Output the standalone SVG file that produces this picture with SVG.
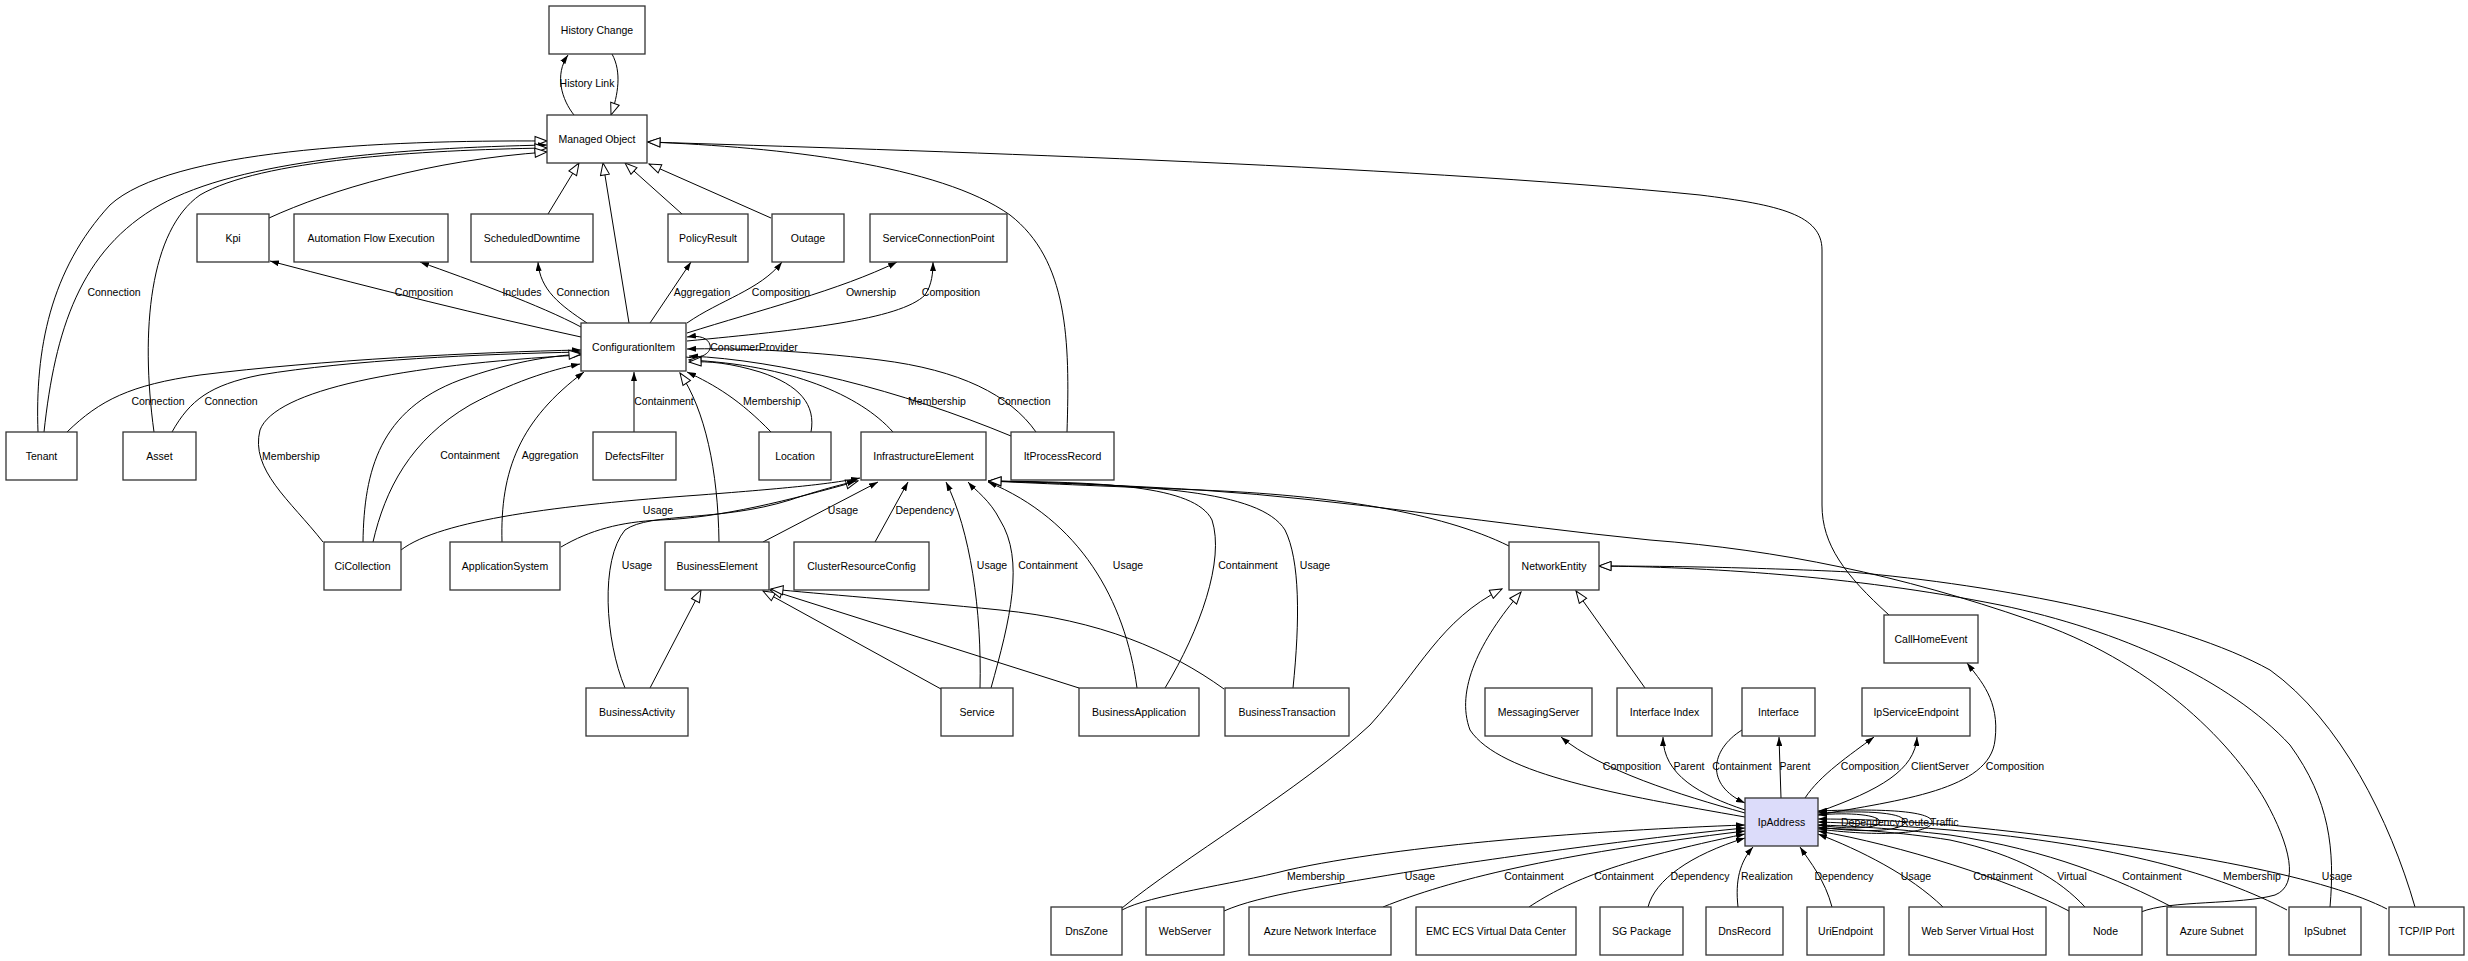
<svg xmlns="http://www.w3.org/2000/svg" width="2468" height="961" viewBox="0 0 2468 961">
<defs>
<style>
.box{fill:#fff;stroke:#333;stroke-width:1.3}
.ip{fill:#dcdcfa;stroke:#333;stroke-width:1.3}
text{font-family:"Liberation Sans",Arial,sans-serif;font-size:10.5px;fill:#000}
.n{text-anchor:middle}
.l{text-anchor:middle}
.s{text-anchor:start}
.e{fill:none;stroke:#000;stroke-width:1}
.f{marker-end:url(#f)}
.h{marker-end:url(#h)}
</style>
<marker id="f" viewBox="0 0 9 6" refX="9" refY="3" markerWidth="9" markerHeight="6" markerUnits="userSpaceOnUse" orient="auto"><path d="M0,0 L9,3 L0,6 z" fill="#000"/></marker>
<marker id="h" viewBox="-1 -1 14 11" refX="12" refY="4.5" markerWidth="14" markerHeight="11" markerUnits="userSpaceOnUse" orient="auto"><path d="M0,0 L12,4.5 L0,9 z" fill="#fff" stroke="#000" stroke-width="1"/></marker>
</defs>
<rect width="2468" height="961" fill="#fff"/>
<g id="connectors">
<path class="e f" d="M574,115 C562,100 554,75 568,55"/>
<path class="e h" d="M612,54 C622,72 618,95 611,115"/>
<path class="e h" d="M38,432 C35,350 50,270 110,205 C170,150 380,140 547,141"/>
<path class="e f" d="M44,432 C55,330 80,250 160,205 C240,160 400,148 547,145"/>
<path class="e h" d="M154,432 C140,330 150,230 200,195 C260,160 420,150 547,148"/>
<path class="e h" d="M269,218 C330,190 430,160 547,152"/>
<path class="e h" d="M1067,432 C1070,340 1068,260 1010,215 C940,165 780,147 648,142"/>
<path class="e h" d="M1889,615 C1845,575 1822,545 1822,505 L1822,250 C1822,215 1780,205 1700,195 C1400,165 900,150 648,142"/>
<path class="e h" d="M548,214 L579,163"/>
<path class="e h" d="M629,323 L603,163"/>
<path class="e h" d="M682,214 L625,163"/>
<path class="e h" d="M771,218 L649,164"/>
<path class="e f" d="M581,337 C480,315 380,290 270,261"/>
<path class="e f" d="M581,327 C540,305 470,280 420,262"/>
<path class="e f" d="M587,323 C560,305 540,290 538,262"/>
<path class="e f" d="M650,323 L691,262"/>
<path class="e f" d="M687,323 C720,300 760,290 782,262"/>
<path class="e f" d="M687,333 C760,310 840,290 897,262"/>
<path class="e f" d="M687,341 C800,330 900,320 925,295 C932,285 933,272 933,262"/>
<path class="e f" d="M686,357 C702,360 712,352 710,345 C708,338 700,335 687,337"/>
<path class="e f" d="M1036,432 C1010,395 960,370 880,360 C800,350 730,348 687,349"/>
<path class="e f" d="M1011,436 C900,390 780,360 689,356"/>
<path class="e h" d="M893,432 C860,395 790,365 689,360"/>
<path class="e h" d="M811,432 C816,405 800,385 760,372 C730,363 710,361 689,362"/>
<path class="e f" d="M771,432 C740,400 715,385 687,372"/>
<path class="e f" d="M634,432 L634,372"/>
<path class="e h" d="M719,542 C718,470 705,410 680,373"/>
<path class="e f" d="M67,432 C100,400 130,385 200,375 C320,360 480,352 581,350"/>
<path class="e f" d="M172,432 C190,400 210,385 260,375 C350,360 480,354 581,352"/>
<path class="e f" d="M323,542 C290,500 250,470 260,430 C275,390 400,365 581,355"/>
<path class="e h" d="M363,542 C364,470 380,410 460,380 C510,362 550,356 581,354"/>
<path class="e f" d="M373,542 C385,490 410,440 470,405 C520,378 560,368 580,364"/>
<path class="e f" d="M502,542 C500,470 520,420 584,372"/>
<path class="e f" d="M401,550 C440,520 560,505 700,495 C790,488 830,484 860,478"/>
<path class="e h" d="M561,547 C590,530 620,522 660,520 C720,518 790,500 858,481"/>
<path class="e f" d="M625,688 C605,640 600,560 625,530 C650,512 720,522 790,500 C820,490 840,485 856,481"/>
<path class="e f" d="M763,542 L878,482"/>
<path class="e f" d="M875,542 L908,482"/>
<path class="e f" d="M980,688 C982,610 970,530 946,482"/>
<path class="e f" d="M991,688 C1010,620 1025,560 1000,520 C990,500 975,490 968,482"/>
<path class="e f" d="M1137,688 C1125,600 1080,520 988,482"/>
<path class="e f" d="M1165,688 C1200,630 1225,560 1212,520 C1195,485 1100,482 988,481"/>
<path class="e f" d="M1293,688 C1300,620 1300,560 1285,530 C1260,490 1150,485 988,481"/>
<path class="e h" d="M1509,546 C1440,512 1330,495 1200,490 C1100,486 1030,483 989,481"/>
<path class="e h" d="M2141,912 C2170,900 2240,905 2275,895 C2300,885 2290,845 2265,800 C2230,740 2150,660 2030,620 C1900,575 1780,550 1650,540 C1500,525 1350,500 1200,490 C1100,484 1030,482 989,481"/>
<path class="e h" d="M2330,907 C2335,850 2330,800 2290,745 C2230,680 2120,630 2000,605 C1850,575 1700,567 1599,566"/>
<path class="e h" d="M2415,907 C2390,820 2340,720 2270,670 C2180,620 2000,585 1850,572 C1750,567 1650,566 1599,566"/>
<path class="e h" d="M1122,908 C1180,860 1300,790 1370,725 C1420,670 1440,620 1502,589"/>
<path class="e h" d="M1745,817 C1620,795 1500,775 1470,730 C1455,690 1480,640 1521,592"/>
<path class="e h" d="M1645,688 L1576,591"/>
<path class="e f" d="M1745,813 C1680,795 1600,770 1561,737"/>
<path class="e f" d="M1745,810 C1700,795 1663,775 1663,737"/>
<path class="e f" d="M1742,730 C1710,750 1705,785 1745,803"/>
<path class="e f" d="M1781,798 L1779,737"/>
<path class="e f" d="M1805,798 C1820,775 1850,755 1874,737"/>
<path class="e f" d="M1818,812 C1880,790 1915,770 1917,737"/>
<path class="e f" d="M1818,815 C1900,800 1990,790 1995,740 C2000,700 1980,680 1967,663"/>
<path class="e f" d="M1818,825 C1850,830 1880,828 1880,822 C1880,815 1850,812 1818,815"/>
<path class="e f" d="M1818,827 C1870,834 1905,830 1905,822 C1905,813 1870,810 1818,813"/>
<path class="e f" d="M1818,829 C1890,838 1932,832 1932,822 C1932,812 1890,808 1818,811"/>
<path class="e f" d="M1122,910 C1150,895 1230,885 1288,870 C1400,845 1600,830 1745,825"/>
<path class="e f" d="M1224,911 C1260,895 1330,885 1420,870 C1550,850 1680,834 1745,828"/>
<path class="e f" d="M1383,907 C1450,880 1550,855 1745,831"/>
<path class="e f" d="M1529,907 C1570,880 1620,860 1745,834"/>
<path class="e f" d="M1648,907 C1655,880 1690,855 1745,838"/>
<path class="e f" d="M1738,907 C1735,880 1740,862 1753,847"/>
<path class="e f" d="M1832,907 C1825,880 1810,862 1800,847"/>
<path class="e f" d="M1943,907 C1910,875 1860,850 1818,834"/>
<path class="e f" d="M2069,911 C2010,880 1900,845 1818,831"/>
<path class="e f" d="M2085,907 C2060,880 2020,855 1950,840 C1900,832 1850,829 1818,828"/>
<path class="e f" d="M2172,907 C2120,880 2050,850 1950,835 C1890,828 1850,826 1818,825"/>
<path class="e f" d="M2287,910 C2220,875 2120,845 1950,830 C1890,825 1850,823 1818,822"/>
<path class="e f" d="M2387,909 C2330,880 2200,850 1950,825 C1890,820 1850,819 1818,819"/>
<path class="e h" d="M650,688 L701,590"/>
<path class="e h" d="M941,689 L763,591"/>
<path class="e h" d="M1079,688 L770,590"/>
<path class="e h" d="M1224,689 C1170,650 1100,620 1000,610 C900,600 820,594 771,589"/>
<text class="l" x="587" y="87">History Link</text>
<text class="l" x="114" y="296">Connection</text>
<text class="l" x="424" y="296">Composition</text>
<text class="l" x="522" y="296">Includes</text>
<text class="l" x="583" y="296">Connection</text>
<text class="l" x="702" y="296">Aggregation</text>
<text class="l" x="781" y="296">Composition</text>
<text class="l" x="871" y="296">Ownership</text>
<text class="l" x="951" y="296">Composition</text>
<text class="l" x="754" y="351">ConsumerProvider</text>
<text class="l" x="158" y="405">Connection</text>
<text class="l" x="231" y="405">Connection</text>
<text class="l" x="664" y="405">Containment</text>
<text class="l" x="772" y="405">Membership</text>
<text class="l" x="937" y="405">Membership</text>
<text class="l" x="1024" y="405">Connection</text>
<text class="l" x="291" y="460">Membership</text>
<text class="l" x="470" y="459">Containment</text>
<text class="l" x="550" y="459">Aggregation</text>
<text class="l" x="658" y="514">Usage</text>
<text class="l" x="843" y="514">Usage</text>
<text class="l" x="925" y="514">Dependency</text>
<text class="l" x="637" y="569">Usage</text>
<text class="l" x="992" y="569">Usage</text>
<text class="l" x="1048" y="569">Containment</text>
<text class="l" x="1128" y="569">Usage</text>
<text class="l" x="1248" y="569">Containment</text>
<text class="l" x="1315" y="569">Usage</text>
<text class="l" x="1632" y="770">Composition</text>
<text class="l" x="1689" y="770">Parent</text>
<text class="l" x="1742" y="770">Containment</text>
<text class="l" x="1795" y="770">Parent</text>
<text class="l" x="1870" y="770">Composition</text>
<text class="l" x="1940" y="770">ClientServer</text>
<text class="l" x="2015" y="770">Composition</text>
<text class="s" x="1841" y="826">Dependency</text>
<text class="s" x="1901" y="826">Route</text>
<text class="s" x="1930" y="826">Traffic</text>
<text class="l" x="1316" y="880">Membership</text>
<text class="l" x="1420" y="880">Usage</text>
<text class="l" x="1534" y="880">Containment</text>
<text class="l" x="1624" y="880">Containment</text>
<text class="l" x="1700" y="880">Dependency</text>
<text class="l" x="1767" y="880">Realization</text>
<text class="l" x="1844" y="880">Dependency</text>
<text class="l" x="1916" y="880">Usage</text>
<text class="l" x="2003" y="880">Containment</text>
<text class="l" x="2072" y="880">Virtual</text>
<text class="l" x="2152" y="880">Containment</text>
<text class="l" x="2252" y="880">Membership</text>
<text class="l" x="2337" y="880">Usage</text>
</g>
<g id="HistoryChange"><rect class="box" x="549" y="6" width="96" height="48"/><text class="n" x="597" y="34">History Change</text></g>
<g id="ManagedObject"><rect class="box" x="547" y="115" width="100" height="48"/><text class="n" x="597" y="143">Managed Object</text></g>
<g id="Kpi"><rect class="box" x="197" y="214" width="72" height="48"/><text class="n" x="233" y="242">Kpi</text></g>
<g id="AutomationFlowExecution"><rect class="box" x="294" y="214" width="154" height="48"/><text class="n" x="371" y="242">Automation Flow Execution</text></g>
<g id="ScheduledDowntime"><rect class="box" x="471" y="214" width="122" height="48"/><text class="n" x="532" y="242">ScheduledDowntime</text></g>
<g id="PolicyResult"><rect class="box" x="668" y="214" width="80" height="48"/><text class="n" x="708" y="242">PolicyResult</text></g>
<g id="Outage"><rect class="box" x="772" y="214" width="72" height="48"/><text class="n" x="808" y="242">Outage</text></g>
<g id="ServiceConnectionPoint"><rect class="box" x="870" y="214" width="137" height="48"/><text class="n" x="938.5" y="242">ServiceConnectionPoint</text></g>
<g id="ConfigurationItem"><rect class="box" x="581" y="323" width="105" height="48"/><text class="n" x="633.5" y="351">ConfigurationItem</text></g>
<g id="Tenant"><rect class="box" x="6" y="432" width="71" height="48"/><text class="n" x="41.5" y="460">Tenant</text></g>
<g id="Asset"><rect class="box" x="123" y="432" width="73" height="48"/><text class="n" x="159.5" y="460">Asset</text></g>
<g id="DefectsFilter"><rect class="box" x="593" y="432" width="83" height="48"/><text class="n" x="634.5" y="460">DefectsFilter</text></g>
<g id="Location"><rect class="box" x="759" y="432" width="72" height="48"/><text class="n" x="795" y="460">Location</text></g>
<g id="InfrastructureElement"><rect class="box" x="861" y="432" width="125" height="48"/><text class="n" x="923.5" y="460">InfrastructureElement</text></g>
<g id="ItProcessRecord"><rect class="box" x="1011" y="432" width="103" height="48"/><text class="n" x="1062.5" y="460">ItProcessRecord</text></g>
<g id="CiCollection"><rect class="box" x="324" y="542" width="77" height="48"/><text class="n" x="362.5" y="570">CiCollection</text></g>
<g id="ApplicationSystem"><rect class="box" x="450" y="542" width="110" height="48"/><text class="n" x="505" y="570">ApplicationSystem</text></g>
<g id="BusinessElement"><rect class="box" x="665" y="542" width="104" height="48"/><text class="n" x="717" y="570">BusinessElement</text></g>
<g id="ClusterResourceConfig"><rect class="box" x="794" y="542" width="135" height="48"/><text class="n" x="861.5" y="570">ClusterResourceConfig</text></g>
<g id="NetworkEntity"><rect class="box" x="1509" y="542" width="90" height="48"/><text class="n" x="1554" y="570">NetworkEntity</text></g>
<g id="CallHomeEvent"><rect class="box" x="1884" y="615" width="94" height="48"/><text class="n" x="1931" y="643">CallHomeEvent</text></g>
<g id="BusinessActivity"><rect class="box" x="586" y="688" width="102" height="48"/><text class="n" x="637" y="716">BusinessActivity</text></g>
<g id="Service"><rect class="box" x="941" y="688" width="72" height="48"/><text class="n" x="977" y="716">Service</text></g>
<g id="BusinessApplication"><rect class="box" x="1079" y="688" width="120" height="48"/><text class="n" x="1139" y="716">BusinessApplication</text></g>
<g id="BusinessTransaction"><rect class="box" x="1225" y="688" width="124" height="48"/><text class="n" x="1287" y="716">BusinessTransaction</text></g>
<g id="MessagingServer"><rect class="box" x="1485" y="688" width="107" height="48"/><text class="n" x="1538.5" y="716">MessagingServer</text></g>
<g id="InterfaceIndex"><rect class="box" x="1617" y="688" width="95" height="48"/><text class="n" x="1664.5" y="716">Interface Index</text></g>
<g id="Interface"><rect class="box" x="1742" y="688" width="73" height="48"/><text class="n" x="1778.5" y="716">Interface</text></g>
<g id="IpServiceEndpoint"><rect class="box" x="1862" y="688" width="108" height="48"/><text class="n" x="1916" y="716">IpServiceEndpoint</text></g>
<g id="IpAddress"><rect class="ip" x="1745" y="798" width="73" height="48"/><text class="n" x="1781.5" y="826">IpAddress</text></g>
<g id="DnsZone"><rect class="box" x="1051" y="907" width="71" height="48"/><text class="n" x="1086.5" y="935">DnsZone</text></g>
<g id="WebServer"><rect class="box" x="1146" y="907" width="78" height="48"/><text class="n" x="1185" y="935">WebServer</text></g>
<g id="AzureNetworkInterface"><rect class="box" x="1249" y="907" width="142" height="48"/><text class="n" x="1320" y="935">Azure Network Interface</text></g>
<g id="EmcEcsVirtualDataCenter"><rect class="box" x="1416" y="907" width="160" height="48"/><text class="n" x="1496" y="935">EMC ECS Virtual Data Center</text></g>
<g id="SGPackage"><rect class="box" x="1600" y="907" width="83" height="48"/><text class="n" x="1641.5" y="935">SG Package</text></g>
<g id="DnsRecord"><rect class="box" x="1706" y="907" width="77" height="48"/><text class="n" x="1744.5" y="935">DnsRecord</text></g>
<g id="UriEndpoint"><rect class="box" x="1807" y="907" width="77" height="48"/><text class="n" x="1845.5" y="935">UriEndpoint</text></g>
<g id="WebServerVirtualHost"><rect class="box" x="1909" y="907" width="137" height="48"/><text class="n" x="1977.5" y="935">Web Server Virtual Host</text></g>
<g id="Node"><rect class="box" x="2069" y="907" width="73" height="48"/><text class="n" x="2105.5" y="935">Node</text></g>
<g id="AzureSubnet"><rect class="box" x="2167" y="907" width="89" height="48"/><text class="n" x="2211.5" y="935">Azure Subnet</text></g>
<g id="IpSubnet"><rect class="box" x="2289" y="907" width="72" height="48"/><text class="n" x="2325" y="935">IpSubnet</text></g>
<g id="TcpIpPort"><rect class="box" x="2389" y="907" width="75" height="48"/><text class="n" x="2426.5" y="935">TCP/IP Port</text></g>
</svg>
